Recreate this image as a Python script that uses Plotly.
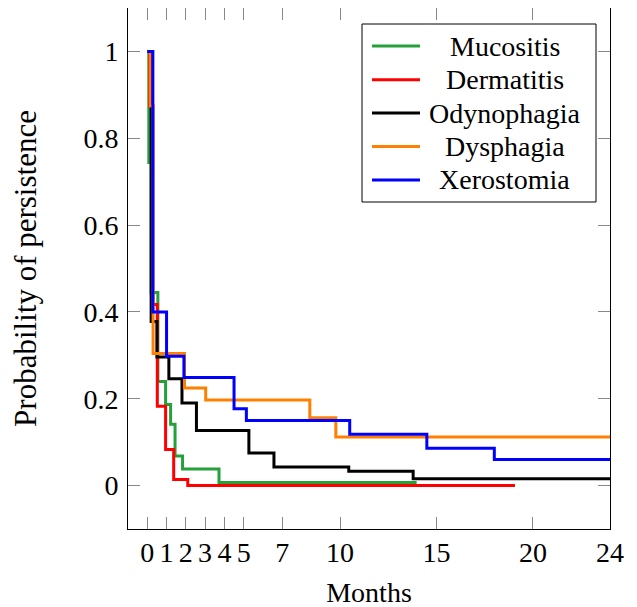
import plotly.graph_objects as go

# ---- data (step functions: start of each step, value) ----
series_names = ["Mucositis", "Dermatitis", "Odynophagia", "Dysphagia", "Xerostomia"]

muc_x = [0, 0.08, 0.20, 0.55, 0.95, 1.21, 1.44, 1.83, 3.72, 13.97]
muc_y = [1.0, 0.744, 0.445, 0.240, 0.187, 0.141, 0.068, 0.038, 0.007, 0.007]

der_x = [0, 0.12, 0.28, 0.52, 0.95, 1.37, 2.10, 19.07]
der_y = [1.0, 0.874, 0.417, 0.183, 0.083, 0.014, 0.0, 0.0]

ody_x = [0, 0.20, 0.50, 1.12, 1.80, 2.55, 5.27, 6.57, 10.45, 13.79, 24]
ody_y = [1.0, 0.378, 0.296, 0.246, 0.190, 0.127, 0.075, 0.043, 0.033, 0.016, 0.016]

dys_x = [0, 0.15, 0.30, 1.93, 3.03, 8.43, 9.78, 24]
dys_y = [1.0, 0.874, 0.304, 0.225, 0.197, 0.156, 0.112, 0.112]

xer_x = [0, 0.29, 1.00, 1.90, 4.50, 5.14, 10.50, 14.50, 18.00, 24]
xer_y = [1.0, 0.400, 0.298, 0.249, 0.177, 0.150, 0.118, 0.086, 0.060, 0.060]

x_ticks = [0, 1, 2, 3, 4, 5, 7, 10, 15, 20, 24]
y_ticks = [0, 0.2, 0.4, 0.6, 0.8, 1.0]
y_tick_labels = ["0", "0.2", "0.4", "0.6", "0.8", "1"]

colors = ["#25a03a", "#ff0000", "#000000", "#ff8000", "#0000ff"]
xs = [muc_x, der_x, ody_x, dys_x, xer_x]
ys = [muc_y, der_y, ody_y, dys_y, xer_y]

FONT = "Liberation Serif"
FS = 28
W, H = 637, 607
OFF = 8  # page body margin offset
L, R, T, B = 120, 35, 0, 86

fig = go.Figure()
for name, x, y, c in zip(series_names, xs, ys, colors):
    fig.add_trace(go.Scatter(x=x, y=y, mode="lines", name=name,
                             line=dict(color=c, width=3, shape="hv"),
                             showlegend=False))

def px_to_paper(sx, sy):
    # screen pixel -> paper coords
    fx, fy = sx - OFF, sy - OFF
    pw = W - L - R
    ph = H - T - B
    return (fx - L) / pw, (H - B - fy) / ph

# custom legend (centered labels like the original)
x0, y0 = px_to_paper(362, 24)
x1, y1 = px_to_paper(596, 202)
shapes = [dict(type="rect", xref="paper", yref="paper", x0=x0, y0=y1, x1=x1, y1=y0,
               line=dict(color="black", width=1), fillcolor="white", layer="above")]
annotations = []
row_py = [46, 79.7, 113, 146.5, 180]
for name, c, py in zip(series_names, colors, row_py):
    lx0, ly = px_to_paper(372, py)
    lx1, _ = px_to_paper(420, py)
    shapes.append(dict(type="line", xref="paper", yref="paper", x0=lx0, x1=lx1, y0=ly, y1=ly,
                       line=dict(color=c, width=3), layer="above"))
    tx, _ = px_to_paper(504.5, py)
    annotations.append(dict(xref="paper", yref="paper", x=tx, y=ly, text=name, showarrow=False,
                            xanchor="center", yanchor="middle",
                            font=dict(family=FONT, size=FS, color="black")))

fig.update_layout(
    width=W, height=H,
    margin=dict(l=L, r=R, t=T, b=B),
    paper_bgcolor="white", plot_bgcolor="white",
    font=dict(family=FONT, size=FS, color="black"),
    shapes=shapes, annotations=annotations,
    showlegend=False,
)
fig.update_xaxes(range=[-1, 24], tickvals=x_ticks, ticktext=[str(v) for v in x_ticks],
                 showgrid=False, zeroline=False, showline=True, linecolor="black", linewidth=1,
                 mirror="allticks", ticks="inside", ticklen=12, tickcolor="#888888", tickwidth=1,
                 ticklabelstandoff=-2,
                 title=dict(text="Months", standoff=15, font=dict(family=FONT, size=FS)))
fig.update_yaxes(range=[-0.1, 1.1], tickvals=y_ticks, ticktext=y_tick_labels,
                 showgrid=False, zeroline=False, showline=True, linecolor="black", linewidth=1,
                 mirror="allticks", ticks="inside", ticklen=12, tickcolor="#888888", tickwidth=1,
                 ticklabelstandoff=3,
                 title=dict(text="Probability of persistence", standoff=38,
                            font=dict(family=FONT, size=31)))

fig.write_html("out.html")
